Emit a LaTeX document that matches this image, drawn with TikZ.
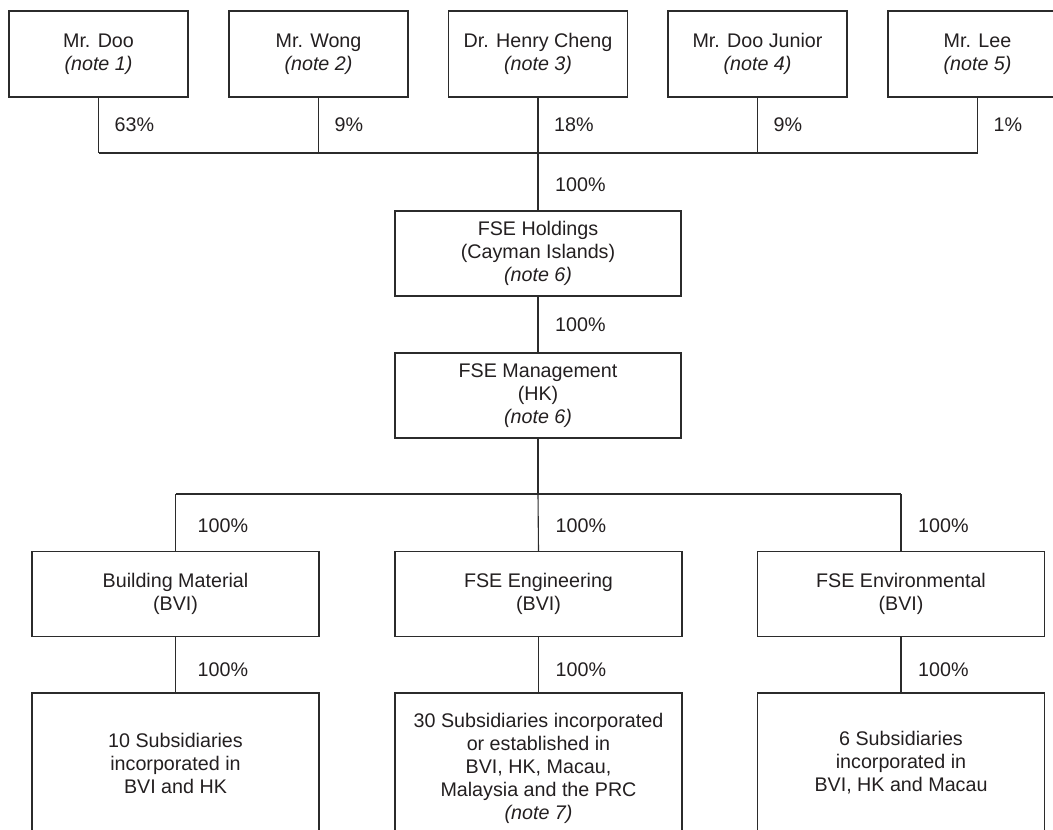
\documentclass[tikz,border=0pt]{standalone}
\usepackage{fontspec}
\setmainfont{Liberation Sans}
\definecolor{ink}{HTML}{231F20}
\definecolor{linec}{HTML}{2B2B2B}
\begin{document}
\begin{tikzpicture}[x=1pt,y=-1pt,
  font=\fontsize{19.7}{23}\selectfont, text=ink,
  box/.style={draw=linec, line width=1.1pt, rectangle, inner sep=0pt, align=center},
  topbox/.style={box, minimum width=179, minimum height=86},
  midbox/.style={box, minimum width=286, minimum height=85},
  pct/.style={anchor=west, inner sep=0pt},
  conn/.style={draw=linec, line width=1.1pt}]
\useasboundingbox (0,0) rectangle (1053,830);
\clip (0,0) rectangle (1053,830);
% top row
\node[topbox] (doo)   at (98.5,54)  {Mr. Doo\\\textit{(note 1)}};
\node[topbox] (wong)  at (318.5,54) {Mr. Wong\\\textit{(note 2)}};
\node[topbox] (henry) at (538,54)   {Dr. Henry Cheng\\\textit{(note 3)}};
\node[topbox] (junior) at (757.5,54) {Mr. Doo Junior\\\textit{(note 4)}};
\node[topbox] (lee)   at (977.5,54) {Mr. Lee\\\textit{(note 5)}};
\coordinate (bus1) at (0,153);
% middle
\node[midbox] (hold) at (538,253.5) {FSE Holdings\\(Cayman Islands)\\\textit{(note 6)}};
\node[midbox] (mgmt) at (538,395.5) {FSE Management\\(HK)\\\textit{(note 6)}};
\coordinate (bus2) at (0,494);
% level 3
\node[midbox, minimum width=287] (bm)  at (175.5,594) {Building Material\\(BVI)};
\node[midbox, minimum width=287] (eng) at (538.5,594) {FSE Engineering\\(BVI)};
\node[midbox, minimum width=287] (env) at (901,594)   {FSE Environmental\\(BVI)};
% bottom boxes (cut off at the bottom)
\node[midbox, minimum width=287, minimum height=150] (s10) at (175.5,768) {};
\node[midbox, minimum width=287, minimum height=150] (s30) at (538.5,768) {};
\node[midbox, minimum width=287, minimum height=150] (s6)  at (901,768)   {};
\node[align=center, inner sep=0pt] (t10) at (175.5,763) {10 Subsidiaries\\incorporated in\\BVI and HK};
\node[align=center, inner sep=0pt] (t30) at (538.5,768) {30 Subsidiaries incorporated\\or established in\\BVI, HK, Macau,\\Malaysia and the PRC\\\textit{(note 7)}};
\node[align=center, inner sep=0pt] (t6)  at (901,763)   {6 Subsidiaries\\incorporated in\\BVI, HK and Macau};
% connectors top
\draw[conn] (doo.south) -- (doo.south |- bus1);
\draw[conn] (wong.south) -- (wong.south |- bus1);
\draw[conn] (junior.south) -- (junior.south |- bus1);
\draw[conn] (lee.south) -- (lee.south |- bus1);
\draw[conn] (doo.south |- bus1) -- (lee.south |- bus1);
\draw[conn] (henry.south) -- (hold.north);
\draw[conn] (hold.south) -- (mgmt.north);
\draw[conn] (mgmt.south) -- (mgmt.south |- bus2);
\draw[conn] (bm.north |- bus2) -- (env.north |- bus2);
\draw[conn] (bm.north |- bus2) -- (bm.north);
\draw[conn] (mgmt.south |- bus2) -- (eng.north);
\draw[conn] (env.north |- bus2) -- (env.north);
\draw[conn] (bm.south) -- (s10.north);
\draw[conn] (eng.south) -- (s30.north);
\draw[conn] (env.south) -- (s6.north);
% percentage labels
\node[pct] (p1) at ([xshift=16] doo.south |- 0,125) {63\%};
\node[pct] (p2) at ([xshift=16] wong.south |- 0,125) {9\%};
\node[pct] (p3) at ([xshift=16] henry.south |- 0,125) {18\%};
\node[pct] (p4) at ([xshift=16] junior.south |- 0,125) {9\%};
\node[pct] (p5) at ([xshift=16] lee.south |- 0,125) {1\%};
\node[pct] (p6) at ([xshift=17] henry.south |- 0,185) {100\%};
\node[pct] (p7) at ([xshift=17] hold.south |- 0,325) {100\%};
\node[pct] (p8) at ([xshift=22] bm.north |- 0,526) {100\%};
\node[pct] (p9) at ([xshift=17] eng.north |- 0,526) {100\%};
\node[pct] (p10) at ([xshift=17] env.north |- 0,526) {100\%};
\node[pct] (p11) at ([xshift=22] bm.south |- 0,670) {100\%};
\node[pct] (p12) at ([xshift=17] eng.south |- 0,670) {100\%};
\node[pct] (p13) at ([xshift=17] env.south |- 0,670) {100\%};
\end{tikzpicture}
\end{document}
